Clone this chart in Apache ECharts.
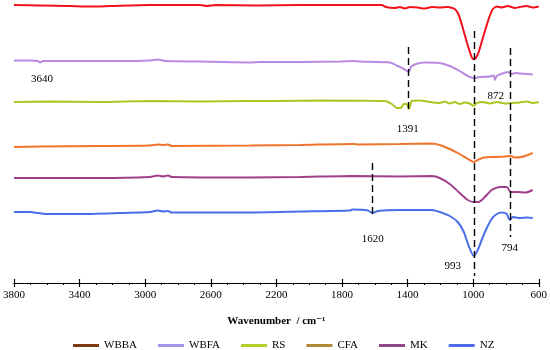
<!DOCTYPE html>
<html>
<head>
<meta charset="utf-8">
<script src="https://cdn.jsdelivr.net/npm/echarts@6/dist/echarts.min.js"></script>
<style>html,body{margin:0;padding:0;background:#fff}#c{width:550px;height:350px}</style>
</head>
<body>
<div id="c"></div>
<script>
// Wavenumber ticks (cm-1)
const xTicks = [3800, 3400, 3000, 2600, 2200, 1800, 1400, 1000, 600];
const seriesNames = ['WBBA', 'WBFA', 'RS', 'CFA', 'MK', 'NZ'];

// Offset transmittance (a.u.) vs wavenumber, [wavenumber, value]
const wbba = [[3800,278],[3642,277.5],[3459,277],[3337,276.5],[3215,277],[2971,278],[2666,278],[2624,277],[2575,278],[2319,277.5],[2057,278],[1557,278],[1533,276],[1478,275],[1447,276],[1417,274.5],[1386,276],[1338,275.5],[1295,274.5],[1252,276],[1204,275.5],[1155,276],[1112,274],[1088,268],[1063,255],[1039,241],[1020,231],[1002,224],[984,225],[966,231],[941,245],[917,258],[899,267],[880,274],[856,276.5],[826,275.5],[789,277],[746,275],[716,276],[673,277],[637,275.5],[600,276.5]];
const wbfa = [[3800,222.5],[3702,222.5],[3654,222],[3642,220.5],[3623,222],[3398,222],[3154,222],[2971,222.5],[2922,223.5],[2880,222],[2666,221.5],[2362,220.5],[2301,221],[2209,221],[2057,221],[1813,221.5],[1734,222],[1691,221.5],[1508,220.5],[1459,217],[1423,214],[1391,211],[1380,216],[1349,219],[1295,220.5],[1204,220],[1143,217],[1082,212],[1033,207],[996,205],[960,206],[899,206.5],[874,207.5],[868,203],[856,207],[820,209.5],[789,211],[765,209],[740,210],[716,209.5],[673,209],[637,208.5]];
const rs = [[3800,181],[3581,181.5],[3276,181],[2971,182],[2666,181.5],[2362,182],[2209,182],[1935,182.5],[1539,182],[1496,179],[1466,175],[1441,175],[1423,179],[1405,179],[1392,174],[1374,182],[1325,182.5],[1264,181],[1204,180],[1173,181.5],[1143,179.5],[1112,181],[1082,179],[1051,180.5],[1021,179.5],[996,177],[978,180],[941,181],[899,179.5],[856,181],[807,179.5],[765,180],[716,180.5],[673,181.5],[637,180],[600,181]];
const cfa = [[3800,136],[3642,136.5],[3276,137],[2971,137.5],[2922,138.5],[2892,138],[2861,138.5],[2837,137],[2362,137.5],[2057,138],[1734,139],[1691,138.5],[1447,139],[1252,139.5],[1204,138],[1143,134],[1082,129],[1033,124],[996,121],[972,123],[935,125.5],[868,126],[807,126.5],[771,127],[746,125.5],[704,126],[667,128],[637,130]];
const mk = [[3800,105],[3642,105],[3276,105],[2971,106],[2922,107.5],[2892,106.5],[2861,107.5],[2837,106],[2362,105.5],[2057,106],[1734,107],[1447,106.5],[1252,107],[1204,105],[1143,99],[1082,90],[1033,83],[996,81],[966,81],[929,86],[887,93],[838,96],[795,96],[771,91],[728,91],[679,90.5],[637,93]];
const nz = [[3800,71],[3702,71],[3654,70],[3611,69],[3398,69],[3154,70],[2971,71],[2922,72.5],[2892,71.5],[2861,72],[2837,70.5],[2362,70.5],[2057,71.5],[1752,72.5],[1734,73.5],[1642,72.5],[1615,70],[1581,72],[1447,73],[1252,73],[1204,71],[1143,67],[1094,61],[1057,51],[1027,37],[996,27],[972,33],[948,43],[917,55],[887,64],[856,69],[826,70.5],[795,69],[777,63],[759,66],[716,65],[673,65.5],[637,65]];

// Peak marker lines: [wavenumber, from, to]
const peakLines = [[993, 252, 7], [1394, 236, 171], [775, 235, 46], [1615, 120, 68]];
// Peak labels: [wavenumber, value, text]
const peakLabels = [[3629, 204, '3640'], [1399, 154, '1391'], [862, 187, '872'], [1612, 44, '1620'], [1124, 17, '993'], [777, 35, '794']];

const lineColors = ['#f2111b', '#b889e0', '#a9c623', '#f0742c', '#a0408c', '#4a6ee6'];
const legendColors = ['#7a3a12', '#a894e6', '#b7cf2a', '#b08a36', '#8e4a86', '#4f6ee8'];
const allData = [wbba, wbfa, rs, cfa, mk, nz];
const FONT = '"Liberation Serif", "DejaVu Serif", serif';

const chart = echarts.init(document.getElementById('c'), null, {renderer: 'canvas'});

const series = seriesNames.map((n, i) => ({
  name: n,
  type: 'line',
  data: allData[i],
  symbol: 'none',
  smooth: 0.2,
  silent: true,
  lineStyle: {color: lineColors[i], width: 2},
  itemStyle: {color: legendColors[i]},
  z: 3
}));

series[5].markLine = {
  silent: true,
  symbol: 'none',
  label: {show: false},
  lineStyle: {color: '#000', width: 1.4, type: [7, 4]},
  data: peakLines.map(p => [{coord: [p[0], p[1]]}, {coord: [p[0], p[2]]}])
};
series[5].markPoint = {
  silent: true,
  symbol: 'circle',
  symbolSize: 1,
  itemStyle: {color: 'rgba(0,0,0,0)'},
  label: {show: true, position: 'inside', color: '#000', fontSize: 11, fontFamily: FONT,
          formatter: p => p.data.txt},
  data: peakLabels.map(p => ({coord: [p[0], p[1]], txt: p[2]}))
};

chart.setOption({
  animation: false,
  backgroundColor: '#fff',
  textStyle: {fontFamily: FONT},
  grid: {left: 14, right: 11, top: 0, bottom: 67, containLabel: false},
  legend: {
    top: 335, left: 68,
    icon: 'rect', itemWidth: 26, itemHeight: 3, itemGap: 21,
    textStyle: {fontSize: 11, color: '#000', fontFamily: FONT},
    data: seriesNames.map((n, i) => ({name: n, itemStyle: {color: legendColors[i]}}))
  },
  xAxis: [{
    type: 'value', min: 600, max: 3800, interval: 400, inverse: true, position: 'bottom',
    name: 'Wavenumber  / cm⁻¹', nameLocation: 'middle', nameGap: 33,
    nameTextStyle: {fontSize: 11, fontWeight: 'bold', color: '#000', fontFamily: FONT},
    axisLine: {lineStyle: {color: '#000', width: 1.2}},
    axisTick: {show: true, length: 4, lineStyle: {color: '#000', width: 1.2}},
    minorTick: {show: true, splitNumber: 4, length: 2, lineStyle: {color: '#000', width: 1}},
    splitLine: {show: false},
    axisLabel: {fontSize: 11, color: '#000', margin: 7, fontFamily: FONT,
                showMinLabel: true, showMaxLabel: true,
                formatter: v => xTicks.indexOf(v) >= 0 ? String(v) : ''}
  }, {
    type: 'value', min: 600, max: 3800, interval: 400, inverse: true, position: 'bottom',
    axisLine: {show: false},
    axisTick: {show: true, inside: true, length: 4, lineStyle: {color: '#000', width: 1.2}},
    axisLabel: {show: false},
    splitLine: {show: false}
  }],
  yAxis: {type: 'value', min: 0, max: 283, show: false, splitLine: {show: false}},
  series: series
});
</script>
</body>
</html>
